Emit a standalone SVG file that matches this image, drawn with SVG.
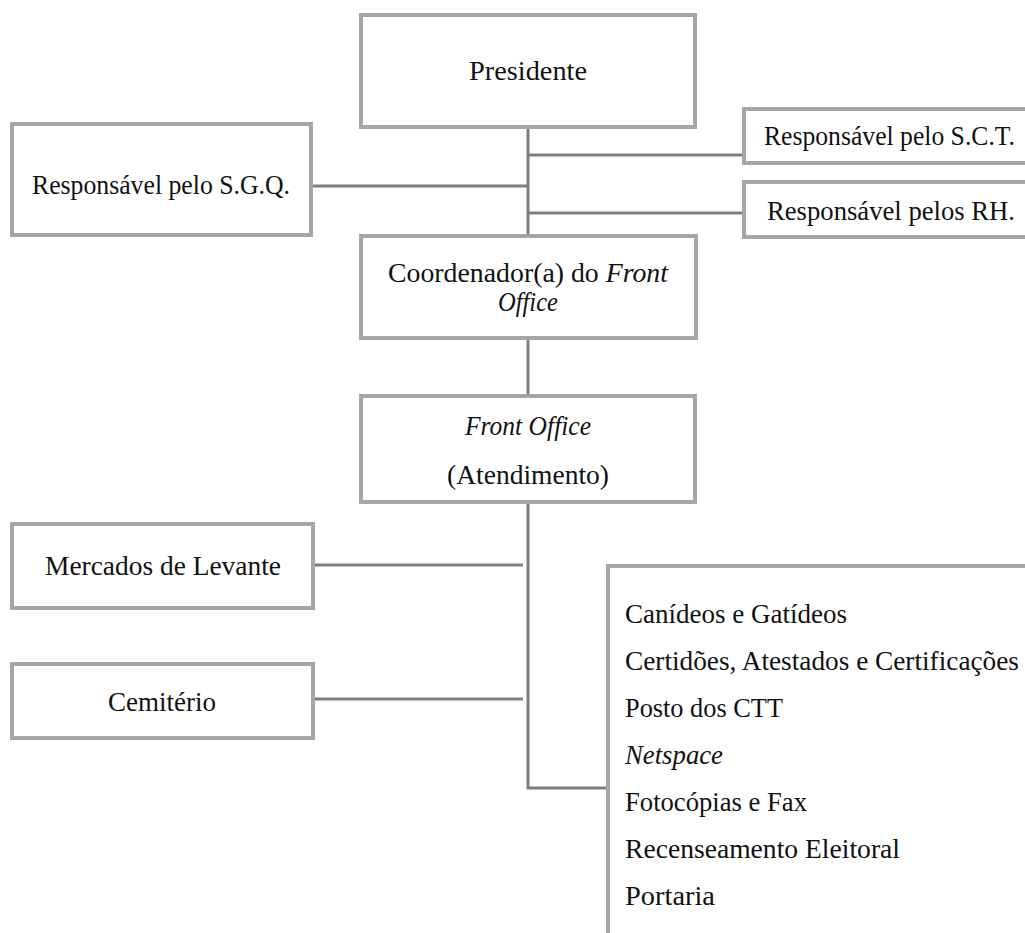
<svg xmlns="http://www.w3.org/2000/svg" width="1025" height="933" viewBox="0 0 1025 933">
<style>
.box{fill:#fff;stroke:#a6a6a6;stroke-width:4}
.con{stroke:#7f7f7f;stroke-width:3;fill:none}
text{font-family:"Liberation Serif","Times New Roman",serif;font-size:27px;fill:#111}
.c{text-anchor:middle}
.i{font-style:italic}
</style>
<rect width="1025" height="933" fill="#fff"/>
<g id="connectors">
<line class="con" x1="528" y1="127" x2="528" y2="236"/>
<line class="con" x1="528" y1="155" x2="744" y2="155"/>
<line class="con" x1="528" y1="213" x2="744" y2="213"/>
<line class="con" x1="311" y1="186" x2="528" y2="186"/>
<line class="con" x1="528" y1="338" x2="528" y2="396"/>
<polyline class="con" points="528,502 528,788 608,788"/>
<line class="con" x1="313" y1="565" x2="523" y2="565"/>
<line class="con" x1="313" y1="699" x2="523" y2="699"/>
</g>
<g id="presidente">
<rect class="box" x="361" y="15" width="334" height="112"/>
<text class="c" x="528" y="80" textLength="118" lengthAdjust="spacingAndGlyphs">Presidente</text>
</g>
<g id="sct">
<rect class="box" x="744" y="109" width="300" height="54"/>
<text x="764" y="145" textLength="251" lengthAdjust="spacingAndGlyphs">Responsável pelo S.C.T.</text>
</g>
<g id="rh">
<rect class="box" x="744" y="182" width="300" height="55"/>
<text x="767" y="220" textLength="248" lengthAdjust="spacingAndGlyphs">Responsável pelos RH.</text>
</g>
<g id="sgq">
<rect class="box" x="12" y="124" width="299" height="111"/>
<text class="c" x="161" y="194" textLength="258" lengthAdjust="spacingAndGlyphs">Responsável pelo S.G.Q.</text>
</g>
<g id="coordenador">
<rect class="box" x="361" y="236" width="335" height="102"/>
<text class="c" x="528" y="282" textLength="280" lengthAdjust="spacingAndGlyphs">Coordenador(a) do <tspan class="i">Front</tspan></text>
<text class="c i" x="528" y="311" textLength="60" lengthAdjust="spacingAndGlyphs">Office</text>
</g>
<g id="frontoffice">
<rect class="box" x="361" y="396" width="334" height="106"/>
<text class="c i" x="528" y="435" textLength="126" lengthAdjust="spacingAndGlyphs">Front Office</text>
<text class="c" x="528" y="484" textLength="162" lengthAdjust="spacingAndGlyphs">(Atendimento)</text>
</g>
<g id="mercados">
<rect class="box" x="12" y="524" width="301" height="84"/>
<text class="c" x="163" y="575" textLength="236" lengthAdjust="spacingAndGlyphs">Mercados de Levante</text>
</g>
<g id="cemiterio">
<rect class="box" x="12" y="664" width="301" height="74"/>
<text class="c" x="162" y="711" textLength="108" lengthAdjust="spacingAndGlyphs">Cemitério</text>
</g>
<g id="servicos">
<rect class="box" x="608" y="566" width="440" height="400"/>
<text x="625" y="623" textLength="222" lengthAdjust="spacingAndGlyphs">Canídeos e Gatídeos</text>
<text x="625" y="670" textLength="394" lengthAdjust="spacingAndGlyphs">Certidões, Atestados e Certificações</text>
<text x="625" y="717" textLength="158" lengthAdjust="spacingAndGlyphs">Posto dos CTT</text>
<text class="i" x="625" y="764" textLength="98" lengthAdjust="spacingAndGlyphs">Netspace</text>
<text x="625" y="811" textLength="182" lengthAdjust="spacingAndGlyphs">Fotocópias e Fax</text>
<text x="625" y="858" textLength="275" lengthAdjust="spacingAndGlyphs">Recenseamento Eleitoral</text>
<text x="625" y="905" textLength="90" lengthAdjust="spacingAndGlyphs">Portaria</text>
</g>
</svg>
